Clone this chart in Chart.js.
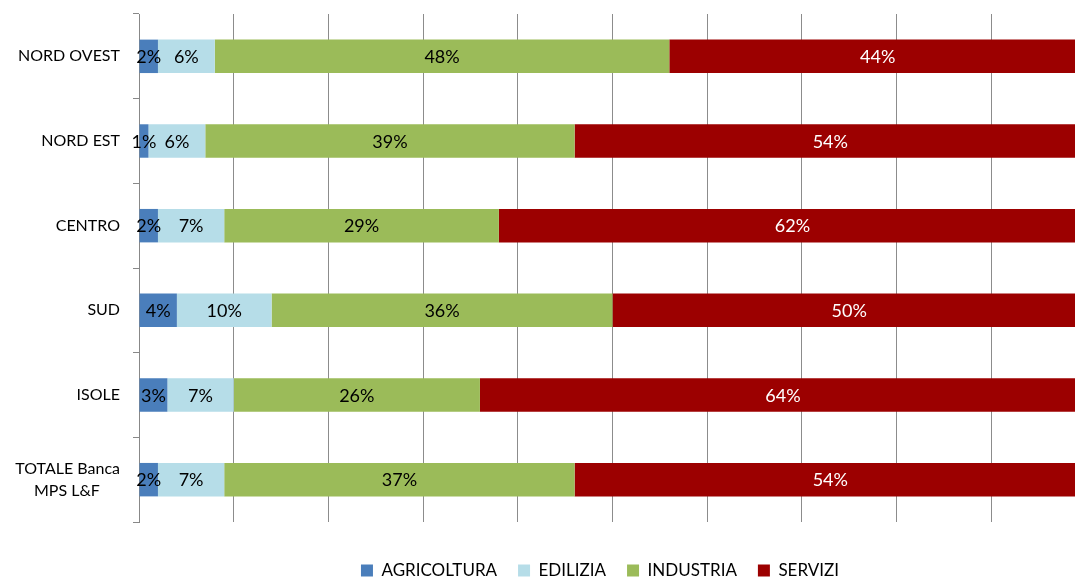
<!DOCTYPE html>
<html lang="it">
<head>
<meta charset="utf-8">
<title>Distribuzione per settore</title>
<script src="https://cdn.jsdelivr.net/npm/chart.js@4/dist/chart.umd.min.js"></script>
<style>
  html, body { margin: 0; padding: 0; overflow: hidden; background: #fff; }
  #wrap { position: relative; width: 1100px; height: 579px; }
</style>
</head>
<body>
<div id="wrap"><canvas id="settori"></canvas></div>
<script>
// aree geografiche (asse verticale)
const aree = ["NORD OVEST", "NORD EST", "CENTRO", "SUD", "ISOLE", ["TOTALE Banca", "MPS L&F\u00a0\u00a0\u00a0\u00a0\u00a0"]];

// quote percentuali per settore
const agricoltura = [2, 1, 2, 4, 3, 2];
const edilizia    = [6, 6, 7, 10, 7, 7];
const industria   = [48, 39, 29, 36, 26, 37];
const servizi     = [44, 54, 62, 50, 64, 54];

const FONT = "Lato, 'Liberation Sans', sans-serif";

// etichette percentuali al centro di ogni segmento
const etichette = {
  id: "etichette",
  afterDatasetsDraw(chart) {
    const ctx = chart.ctx;
    ctx.save();
    ctx.font = "18px " + FONT;
    ctx.textAlign = "center";
    ctx.textBaseline = "middle";
    chart.data.datasets.forEach((ds, i) => {
      chart.getDatasetMeta(i).data.forEach((bar, j) => {
        const p = bar.getProps(["x", "y", "base"], true);
        ctx.fillStyle = i === 3 ? "#ffffff" : "#000000";
        ctx.fillText(ds.data[j] + "%", (p.x + p.base) / 2, p.y + 1);
      });
    });
    ctx.restore();
  }
};

// la legenda resta centrata un po' piu' a sinistra dell'area del grafico
const legendaSpostata = {
  id: "legendaSpostata",
  afterLayout(chart) {
    chart.legend.left += 114;
  }
};

new Chart(document.getElementById("settori"), {
  type: "bar",
  data: {
    labels: aree,
    datasets: [
      { label: "AGRICOLTURA", data: agricoltura, backgroundColor: "#4a7ebb" },
      { label: "EDILIZIA", data: edilizia, backgroundColor: "#b6dde8" },
      { label: "INDUSTRIA", data: industria, backgroundColor: "#9bbb59" },
      { label: "SERVIZI", data: servizi, backgroundColor: "#9c0000" }
    ]
  },
  options: {
    indexAxis: "y",
    responsive: true,
    maintainAspectRatio: false,
    animation: false,
    layout: { padding: { left: 0, right: 14, top: 14, bottom: -10 } },
    datasets: {
      bar: { categoryPercentage: 1, barPercentage: 0.395, borderWidth: 0 }
    },
    scales: {
      x: {
        stacked: true,
        min: 0,
        max: 100,
        ticks: { display: false, stepSize: 10 },
        grid: { color: "#8c8c8c", drawTicks: false },
        border: { display: false },
        afterFit: s => { s.height = 19; }
      },
      y: {
        stacked: true,
        grid: { drawOnChartArea: false, offset: true, tickLength: 6, color: "#888888" },
        border: { color: "#888888" },
        ticks: {
          padding: 13,
          color: "#000000",
          font: { family: FONT, size: 16, lineHeight: 1.4 }
        },
        afterFit: s => {
          s.width = 139;
          s.paddingTop = 0;
          s.paddingBottom = 0;
        }
      }
    },
    plugins: {
      legend: {
        position: "bottom",
        labels: {
          boxWidth: 12,
          boxHeight: 12,
          padding: 21,
          color: "#000000",
          font: { family: FONT, size: 17 }
        }
      },
      tooltip: { enabled: false }
    }
  },
  plugins: [etichette, legendaSpostata]
});
</script>
</body>
</html>
